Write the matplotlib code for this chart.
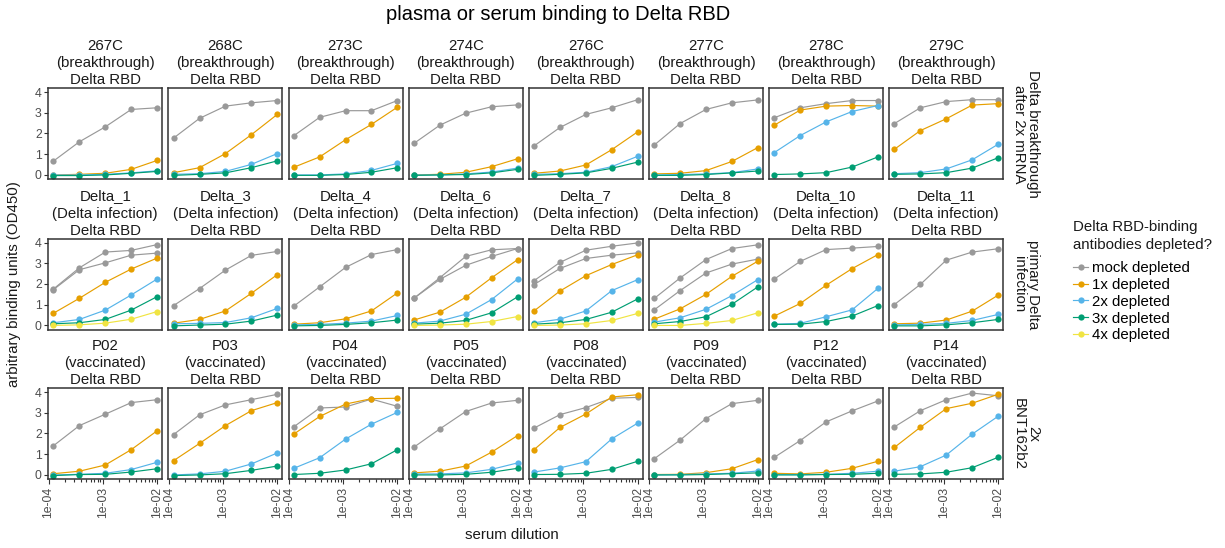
import numpy as np
import matplotlib.pyplot as plt
from matplotlib.lines import Line2D
from matplotlib.ticker import FixedLocator, LogLocator, NullFormatter

plt.rcParams['font.family'] = ['Liberation Sans', 'DejaVu Sans']

W, H = 1225, 548

dilutions = [1 / 8100, 1 / 2700, 1 / 900, 1 / 300, 1 / 100]

samples = [
    ['267C', '268C', '273C', '274C', '276C', '277C', '278C', '279C'],
    ['Delta_1', 'Delta_3', 'Delta_4', 'Delta_6', 'Delta_7', 'Delta_8', 'Delta_10', 'Delta_11'],
    ['P02', 'P03', 'P04', 'P05', 'P08', 'P09', 'P12', 'P14'],
]
groups = ['(breakthrough)', '(Delta infection)', '(vaccinated)']
row_labels = ['Delta breakthrough\nafter 2x mRNA', 'primary Delta\ninfection', '2x\nBNT162b2']

# values per sample, same order as samples (row by row), low -> high serum concentration
mock = [
    [0.67, 1.60, 2.32, 3.16, 3.24],
    [1.78, 2.73, 3.32, 3.48, 3.59],
    [1.89, 2.78, 3.10, 3.10, 3.59],
    [1.52, 2.40, 2.98, 3.29, 3.38],
    [1.40, 2.29, 2.92, 3.24, 3.63],
    [1.44, 2.48, 3.16, 3.48, 3.62],
    [2.76, 3.24, 3.44, 3.59, 3.59],
    [2.48, 3.24, 3.54, 3.63, 3.63],
    [1.76, 2.78, 3.54, 3.62, 3.90],
    [0.96, 1.78, 2.67, 3.38, 3.57],
    [0.93, 1.86, 2.80, 3.42, 3.66],
    [1.31, 2.30, 3.33, 3.65, 3.71],
    [2.16, 3.04, 3.63, 3.82, 3.98],
    [1.30, 2.29, 3.18, 3.71, 3.89],
    [2.24, 3.09, 3.66, 3.73, 3.81],
    [1.01, 1.98, 3.15, 3.54, 3.70],
    [1.41, 2.38, 2.93, 3.49, 3.63],
    [1.95, 2.90, 3.38, 3.63, 3.89],
    [2.32, 3.23, 3.28, 3.66, 3.31],
    [1.34, 2.22, 3.06, 3.47, 3.60],
    [2.26, 2.91, 3.25, 3.70, 3.74],
    [0.78, 1.68, 2.72, 3.44, 3.60],
    [0.85, 1.66, 2.56, 3.09, 3.57],
    [2.32, 3.10, 3.63, 3.95, 3.82],
]
# second mock depleted run for some infection samples
mock_rep2 = {
    'Delta_1': [1.73, 2.69, 3.02, 3.39, 3.49],
    'Delta_6': [1.31, 2.22, 2.90, 3.33, 3.71],
    'Delta_7': [1.97, 2.75, 3.23, 3.39, 3.50],
    'Delta_8': [0.75, 1.68, 2.53, 2.96, 3.20],
}
dep1x = [
    [0.00, 0.03, 0.08, 0.27, 0.70],
    [0.11, 0.35, 1.03, 1.94, 2.92],
    [0.37, 0.87, 1.70, 2.44, 3.27],
    [0.00, 0.03, 0.13, 0.40, 0.78],
    [0.08, 0.19, 0.48, 1.22, 2.08],
    [0.05, 0.08, 0.21, 0.65, 1.32],
    [2.40, 3.13, 3.32, 3.35, 3.32],
    [1.24, 2.14, 2.71, 3.37, 3.44],
    [0.59, 1.31, 2.08, 2.72, 3.25],
    [0.11, 0.29, 0.70, 1.55, 2.45],
    [0.06, 0.13, 0.32, 0.70, 1.57],
    [0.26, 0.64, 1.36, 2.30, 3.17],
    [0.70, 1.66, 2.40, 2.94, 3.41],
    [0.30, 0.80, 1.50, 2.37, 3.10],
    [0.45, 1.06, 1.94, 2.74, 3.42],
    [0.08, 0.11, 0.26, 0.69, 1.46],
    [0.06, 0.18, 0.48, 1.22, 2.13],
    [0.69, 1.52, 2.38, 3.10, 3.49],
    [1.97, 2.82, 3.42, 3.68, 3.70],
    [0.10, 0.18, 0.43, 1.10, 1.90],
    [1.22, 2.29, 2.94, 3.76, 3.87],
    [0.02, 0.03, 0.11, 0.30, 0.74],
    [0.08, 0.05, 0.13, 0.32, 0.66],
    [1.33, 2.30, 3.20, 3.46, 3.89],
]
dep2x = [
    [0.00, 0.00, 0.03, 0.10, 0.20],
    [0.03, 0.06, 0.17, 0.51, 1.03],
    [0.00, 0.00, 0.05, 0.22, 0.56],
    [0.00, 0.00, 0.05, 0.14, 0.33],
    [0.03, 0.06, 0.13, 0.40, 0.90],
    [0.00, 0.02, 0.05, 0.11, 0.29],
    [1.08, 1.90, 2.56, 3.06, 3.35],
    [0.06, 0.11, 0.29, 0.73, 1.48],
    [0.13, 0.29, 0.74, 1.47, 2.24],
    [0.08, 0.10, 0.14, 0.37, 0.82],
    [0.03, 0.05, 0.11, 0.21, 0.48],
    [0.11, 0.21, 0.54, 1.25, 2.24],
    [0.13, 0.30, 0.70, 1.68, 2.21],
    [0.16, 0.37, 0.78, 1.44, 2.21],
    [0.06, 0.10, 0.42, 0.75, 1.79],
    [0.03, 0.05, 0.10, 0.24, 0.53],
    [0.00, 0.03, 0.08, 0.26, 0.61],
    [0.00, 0.05, 0.18, 0.53, 1.06],
    [0.32, 0.83, 1.73, 2.45, 3.02],
    [0.05, 0.05, 0.10, 0.27, 0.58],
    [0.14, 0.34, 0.64, 1.74, 2.50],
    [0.00, 0.02, 0.05, 0.08, 0.19],
    [0.02, 0.02, 0.03, 0.08, 0.18],
    [0.18, 0.40, 0.96, 1.97, 2.83],
]
dep3x = [
    [-0.03, -0.03, 0.00, 0.08, 0.17],
    [-0.02, 0.03, 0.10, 0.35, 0.68],
    [-0.02, -0.02, 0.02, 0.13, 0.35],
    [-0.02, 0.00, 0.02, 0.10, 0.27],
    [-0.02, 0.03, 0.10, 0.32, 0.62],
    [-0.02, -0.02, 0.02, 0.10, 0.19],
    [0.02, 0.05, 0.11, 0.38, 0.87],
    [0.03, 0.05, 0.11, 0.33, 0.83],
    [0.08, 0.13, 0.29, 0.74, 1.39],
    [-0.02, 0.02, 0.06, 0.21, 0.50],
    [-0.02, 0.00, 0.05, 0.13, 0.26],
    [0.06, 0.11, 0.24, 0.61, 1.38],
    [0.06, 0.13, 0.29, 0.64, 1.28],
    [0.08, 0.19, 0.42, 1.02, 1.86],
    [0.05, 0.06, 0.19, 0.45, 0.96],
    [-0.02, -0.02, 0.03, 0.13, 0.29],
    [-0.03, 0.02, 0.03, 0.14, 0.30],
    [-0.03, 0.00, 0.06, 0.22, 0.43],
    [0.02, 0.08, 0.24, 0.54, 1.22],
    [0.00, 0.00, 0.03, 0.13, 0.32],
    [0.02, 0.03, 0.08, 0.27, 0.66],
    [0.00, 0.00, 0.02, 0.06, 0.10],
    [0.00, 0.00, 0.02, 0.03, 0.08],
    [0.03, 0.05, 0.13, 0.35, 0.85],
]
dep4x = {
    'Delta_1': [0.00, 0.03, 0.11, 0.30, 0.67],
    'Delta_6': [0.00, 0.02, 0.06, 0.19, 0.43],
    'Delta_7': [0.00, 0.02, 0.08, 0.24, 0.58],
    'Delta_8': [0.00, 0.00, 0.10, 0.24, 0.61],
}

legend_labels = ['mock depleted', '1x depleted', '2x depleted', '3x depleted', '4x depleted']
colors = ['#999999', '#E69F00', '#56B4E9', '#009E73', '#F0E442']

TICK_FS = 8.8


def fx(px):
    return px / W


def fy(py):
    return 1 - py / H


fig = plt.figure(figsize=(W / 100, H / 100), dpi=100)

col_left = 48.3
col_pitch = 120.14
pan_w = 114
pan_h = 91
row_top = [88.3, 238.8, 388.3]

lx = np.log10(dilutions)
pad = 0.05 * (lx[-1] - lx[0])
xlim = (10 ** (lx[0] - pad), 10 ** (lx[-1] + pad))

for r in range(3):
    for c in range(8):
        name = samples[r][c]
        idx = r * 8 + c
        ax = fig.add_axes([fx(col_left + c * col_pitch), fy(row_top[r] + pan_h),
                           fx(pan_w), pan_h / H])
        series = [mock[idx]]
        cols = [colors[0]]
        if name in mock_rep2:
            series.append(mock_rep2[name])
            cols.append(colors[0])
        series += [dep1x[idx], dep2x[idx], dep3x[idx]]
        cols += colors[1:4]
        if name in dep4x:
            series.append(dep4x[name])
            cols.append(colors[4])
        for vals, col in zip(series, cols):
            ax.plot(dilutions, vals, color=col, lw=0.85, marker='o', ms=4.5,
                    markeredgewidth=0)

        ax.set_xscale('log')
        ax.set_xlim(*xlim)
        ax.set_ylim(-0.21, 4.18)
        for sp in ax.spines.values():
            sp.set_color('#333333')
            sp.set_linewidth(1.1)

        ax.set_yticks([0, 1, 2, 3, 4])
        ax.set_yticklabels(['0', '1', '2', '3', '4'], fontsize=TICK_FS)
        ax.tick_params(axis='both', which='both', colors='#333333', labelcolor='#4d4d4d',
                       width=0.8)
        ax.tick_params(axis='y', length=3.2, pad=1.5)
        if c > 0:
            ax.tick_params(axis='y', left=False, labelleft=False)

        ax.xaxis.set_major_locator(FixedLocator([1e-4, 1e-3, 1e-2]))
        ax.xaxis.set_minor_locator(LogLocator(base=10, subs=np.arange(2, 10), numticks=20))
        ax.xaxis.set_minor_formatter(NullFormatter())
        if r == 2:
            ax.set_xticklabels(['1e-04', '1e-03', '1e-02'], rotation=90, fontsize=TICK_FS)
            ax.tick_params(axis='x', which='major', length=3.5, pad=2)
            ax.tick_params(axis='x', which='minor', length=2.4)
        else:
            ax.tick_params(axis='x', which='both', bottom=False, labelbottom=False)

        # facet strip
        cx = fx(col_left + c * col_pitch + pan_w / 2)
        top = row_top[r]
        for k, line in enumerate([name, groups[r], 'Delta RBD']):
            fig.text(cx, fy(top - 38.5 + 17.3 * k), line, ha='center', va='baseline',
                     fontsize=10.8, color='#1a1a1a')

    fig.text(fx(1026), fy(row_top[r] + pan_h / 2), row_labels[r], rotation=-90,
             ha='center', va='center', fontsize=10.8, color='#1a1a1a', linespacing=1.05,
             multialignment='center')

fig.text(fx(558), fy(15), 'plasma or serum binding to Delta RBD', ha='center', va='center',
         fontsize=14.5, color='black')
fig.text(fx(14), fy(284), 'arbitrary binding units (OD450)', rotation=90, ha='center',
         va='center', fontsize=10.8, color='#1a1a1a')
fig.text(fx(512), fy(535), 'serum dilution', ha='center', va='center', fontsize=10.8,
         color='#1a1a1a')

# legend: title as its own text so the gap to the keys matches
fig.text(fx(1073), fy(236), 'Delta RBD-binding\nantibodies depleted?', ha='left',
         va='center', fontsize=10.8, color='#1a1a1a', linespacing=1.3)
handles = [Line2D([], [], color=col, lw=0.85, marker='o', ms=4.5, markeredgewidth=0)
           for col in colors]
leg = fig.legend(handles, legend_labels, loc='upper left', bbox_to_anchor=(fx(1070), fy(258)),
                 frameon=False, fontsize=10.8, handlelength=1.0, handletextpad=0.25,
                 labelspacing=0.19, borderaxespad=0, borderpad=0.2)

fig.savefig('out.png', dpi=100)
